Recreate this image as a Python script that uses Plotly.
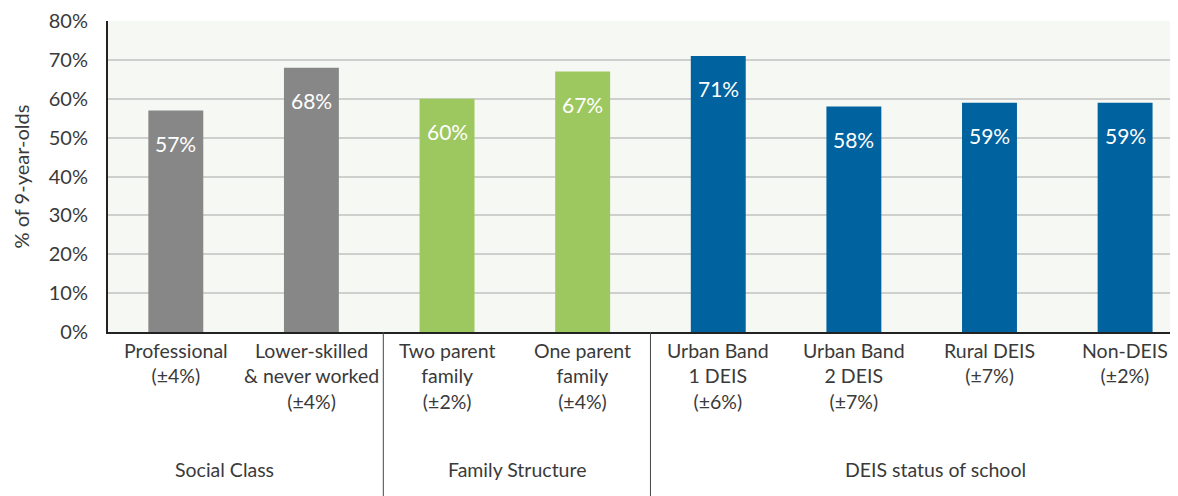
import plotly.graph_objects as go

categories = ["Professional<br>(±4%)", "Lower-skilled<br>& never worked<br>(±4%)",
              "Two parent<br>family<br>(±2%)", "One parent<br>family<br>(±4%)",
              "Urban Band<br>1 DEIS<br>(±6%)", "Urban Band<br>2 DEIS<br>(±7%)",
              "Rural DEIS<br>(±7%)", "Non-DEIS<br>(±2%)"]
values = [57, 68, 60, 67, 71, 58, 59, 59]
colors = ["#878787", "#878787", "#9dc75f", "#9dc75f",
          "#00629e", "#00629e", "#00629e", "#00629e"]
groups = ["Social Class", "Family Structure", "DEIS status of school"]
group_pos = [0.36, 2.52, 5.6]
separators = [1.53, 3.5]
y_ticks = [0, 10, 20, 30, 40, 50, 60, 70, 80]

FONT = "Lato"
TXT = "#3a3a3a"
x = list(range(len(values)))

fig = go.Figure()
fig.add_trace(go.Bar(x=x, y=values, marker=dict(color=colors, line=dict(width=0)),
                     width=0.405, hoverinfo="skip"))

ann = []
for xi, v in zip(x, values):
    ann.append(dict(x=xi, y=v, xref="x", yref="y", text=f"{v}%", showarrow=False,
                    yanchor="middle", yshift=-33,
                    font=dict(family=FONT, size=21, color="white")))
for xi, c in zip(x, categories):
    ann.append(dict(x=xi, y=0, xref="x", yref="paper", text=c, showarrow=False,
                    yanchor="top", yshift=-5, align="center",
                    font=dict(family=FONT, size=19.5, color=TXT)))
for gp, g in zip(group_pos, groups):
    ann.append(dict(x=gp, y=0, xref="x", yref="paper", text=g, showarrow=False,
                    yanchor="middle", yshift=-137,
                    font=dict(family=FONT, size=19.5, color=TXT)))

shapes = []
for s in separators:
    shapes.append(dict(type="line", xref="x", yref="paper", x0=s, x1=s, y0=0, y1=-0.6,
                       line=dict(color="#444444", width=1)))

fig.update_layout(
    width=1170, height=488,
    margin=dict(l=100, r=0, t=13, b=164),
    paper_bgcolor="white", plot_bgcolor="#f6f8f3",
    showlegend=False,
    annotations=ann, shapes=shapes,
    font=dict(family=FONT, color=TXT),
    xaxis=dict(range=[-0.5, 7.39], showticklabels=False, showgrid=False, zeroline=False,
               showline=True, linecolor="#222222", linewidth=2, ticks=""),
    yaxis=dict(range=[0, 80], tickvals=y_ticks, ticktext=[f"{t}%" for t in y_ticks],
               showgrid=True, gridcolor="#cfd0cd", gridwidth=2, zeroline=False,
               showline=True, linecolor="#222222", linewidth=2, ticks="",
               ticklabelstandoff=14,
               tickfont=dict(family=FONT, size=20, color=TXT),
               title=dict(text="% of 9-year-olds", standoff=14,
                          font=dict(family=FONT, size=20, color=TXT))),
)

fig.write_html("out.html")
